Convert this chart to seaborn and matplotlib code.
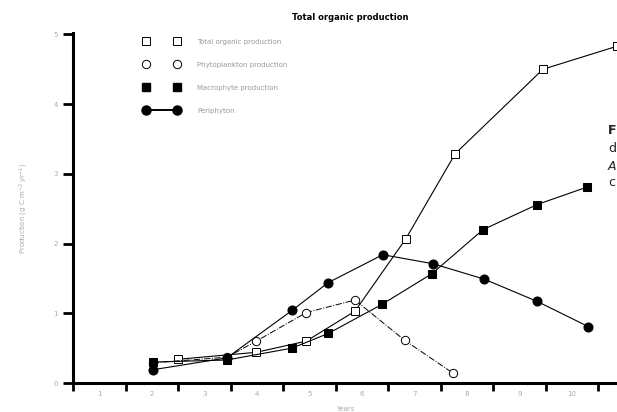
import matplotlib
matplotlib.use("Agg")
import matplotlib.pyplot as plt
from matplotlib.lines import Line2D
import seaborn as sns

# ---- data ----
a_x = [2.0, 3.49, 4.44, 5.37, 6.34, 7.28, 8.95, 10.36]
a_y = [0.34, 0.44, 0.60, 1.03, 2.07, 3.29, 4.50, 4.83]

b_x = [1.52, 2.93, 3.49, 4.44, 5.37, 6.32, 7.24]
b_y = [0.29, 0.37, 0.60, 1.01, 1.19, 0.61, 0.14]

c_x = [1.52, 2.93, 4.17, 4.86, 5.89, 6.84, 7.81, 8.84, 9.79]
c_y = [0.30, 0.33, 0.50, 0.71, 1.13, 1.57, 2.20, 2.56, 2.81]

d_x = [1.52, 2.93, 4.17, 4.86, 5.90, 6.86, 7.83, 8.84, 9.81]
d_y = [0.19, 0.36, 1.04, 1.44, 1.84, 1.71, 1.49, 1.17, 0.81]

series_labels = ["Total organic production", "Phytoplankton production",
                 "Macrophyte production", "Periphyton"]
x_ticks = [0, 1, 2, 3, 4, 5, 6, 7, 8, 9, 10]
x_ticklabels = ["1", "2", "3", "4", "5", "6", "7", "8", "9", "10"]
y_ticks = [0, 1, 2, 3, 4, 5]
y_ticklabels = ["0", "1", "2", "3", "4", "5"]
side_text = ["F", "d", "A", "c"]

sns.set_theme(style="white")
plt.rcParams['font.family'] = ['DejaVu Sans']

fig = plt.figure(figsize=(6.17, 4.12), dpi=100)
ax = fig.add_axes([73/617, 29/412, 544/617, 350/412])

common = dict(color="black", ax=ax, sort=False, legend=False)
sns.lineplot(x=a_x, y=a_y, marker="s", markersize=6, markerfacecolor="white",
             markeredgecolor="black", markeredgewidth=0.7, linewidth=0.8,
             linestyle="-", **common)
sns.lineplot(x=b_x, y=b_y, marker="o", markersize=6, markerfacecolor="white",
             markeredgecolor="black", markeredgewidth=0.7, linewidth=0.7,
             linestyle="-.", **common)
sns.lineplot(x=c_x, y=c_y, marker="s", markersize=6, markerfacecolor="black",
             markeredgecolor="black", linewidth=0.8, linestyle="-", **common)
sns.lineplot(x=d_x, y=d_y, marker="o", markersize=6.5, markerfacecolor="black",
             markeredgecolor="black", linewidth=0.8, linestyle="-", **common)

ax.set_xlim(0, 10.36)
ax.set_ylim(0, 5.02)

for s in ["top", "right"]:
    ax.spines[s].set_visible(False)
for s in ["left", "bottom"]:
    ax.spines[s].set_visible(True)
    ax.spines[s].set_color("black")
    ax.spines[s].set_linewidth(2.2)

ax.set_xticks(x_ticks)
ax.set_xticklabels([])
ax.set_xticks([t + 0.5 for t in x_ticks[:-1]], minor=True)
ax.set_xticklabels(x_ticklabels, minor=True, fontsize=5, color="#aaaaaa")
ax.tick_params(axis="x", which="major", direction="out", length=6, width=2,
               color="black", bottom=True)
ax.tick_params(axis="x", which="minor", length=0, pad=6)
ax.set_yticks(y_ticks)
ax.set_yticklabels(y_ticklabels, fontsize=5, color="#aaaaaa")
ax.tick_params(axis="y", direction="out", length=7, width=2, color="black",
               left=True, pad=4)

ax.set_xlabel("Years", fontsize=5, color="#aaaaaa", labelpad=6)
ax.set_ylabel("Production (g C m$^{-2}$ yr$^{-1}$)", fontsize=5,
              color="#aaaaaa", labelpad=17)

# legend
handles = [
    Line2D([], [], color="black", lw=0, marker="s", markersize=6,
           markerfacecolor="white", markeredgewidth=0.7),
    Line2D([], [], color="black", lw=0, marker="o", markersize=6,
           markerfacecolor="white", markeredgewidth=0.7),
    Line2D([], [], color="black", lw=0, marker="s", markersize=6),
    Line2D([], [], color="black", lw=1.4, marker="o", markersize=6.5),
]
leg = ax.legend(handles, series_labels, numpoints=2, handlelength=5.1,
                frameon=False, loc="upper left",
                bbox_to_anchor=(0.1305, 0.984), labelspacing=2.45,
                fontsize=5, handletextpad=2.6, borderaxespad=0, borderpad=0)
for t in leg.get_texts():
    t.set_color("#999999")

fig.text(350/617, 1 - 18/412, "Total organic production", ha="center",
         va="center", fontsize=6, fontweight="bold", color="black")

# caption fragments at the right edge
side_y = [130, 149, 166, 183]
for i, (s, yy) in enumerate(zip(side_text, side_y)):
    fig.text(608/617, 1 - yy/412, s, fontsize=9,
             fontweight="bold" if i == 0 else "normal",
             style="italic" if i == 2 else "normal",
             va="center", ha="left", color="#222222")

fig.savefig("out.png", dpi=100)
